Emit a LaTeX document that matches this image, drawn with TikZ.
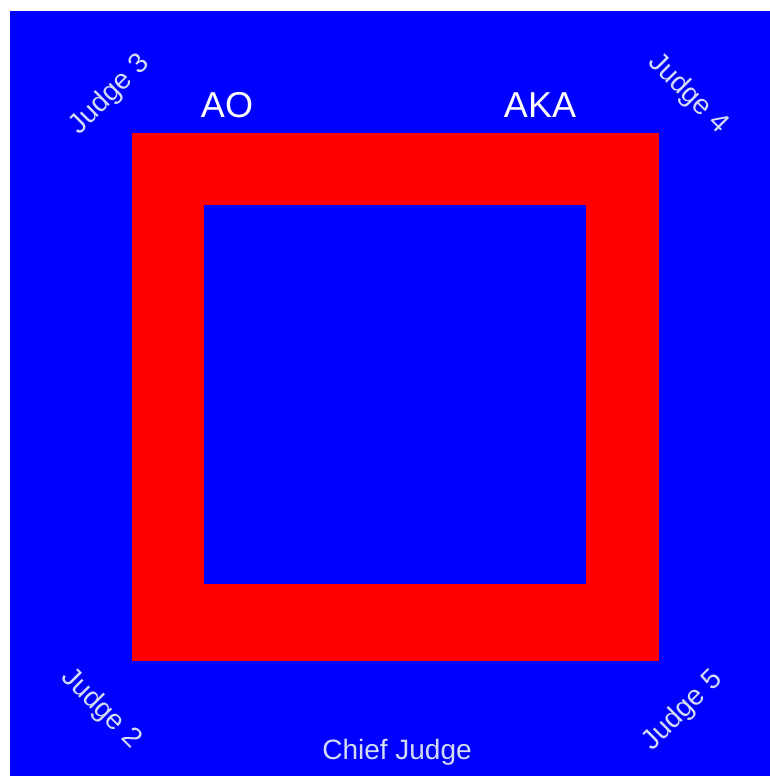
\documentclass[tikz,border=0pt]{standalone}
\usepackage{fontspec}
\setmainfont{Liberation Sans}
\usepackage{xcolor}
\definecolor{matblue}{RGB}{0,0,255}
\definecolor{matred}{RGB}{255,0,0}
\definecolor{judgegrey}{RGB}{212,220,245}

\begin{document}
\begin{tikzpicture}[x=1pt,y=-1pt,
    judge/.style={text=judgegrey,font=\fontsize{28}{28}\selectfont,inner sep=0pt},
    corner/.style={text=white,font=\fontsize{36}{36}\selectfont,inner sep=0pt,anchor=base}]
    \useasboundingbox (0,0) rectangle (770,776);
    \fill[white] (0,0) rectangle (770,776);
    \fill[matblue] (10,11) rectangle (770,776);
    % safety border and competition area
    \fill[matred] (132,133) rectangle (659,661);
    \fill[matblue] (204,205) rectangle (586,584);
    \node[corner] (ao) at (227,117) {AO};
    \node[corner] (aka) at (540,117) {AKA};
    \node[judge,rotate=45] (judge3) at (110,95) {Judge 3};
    \node[judge,rotate=-45] (judge4) at (688,94) {Judge 4};
    \node[judge,rotate=-45] (judge2) at (101,709) {Judge 2};
    \node[judge,rotate=45] (judge5) at (683,711) {Judge 5};
    \node[judge,anchor=base] (chief) at (397,759) {Chief Judge};
\end{tikzpicture}
\end{document}
